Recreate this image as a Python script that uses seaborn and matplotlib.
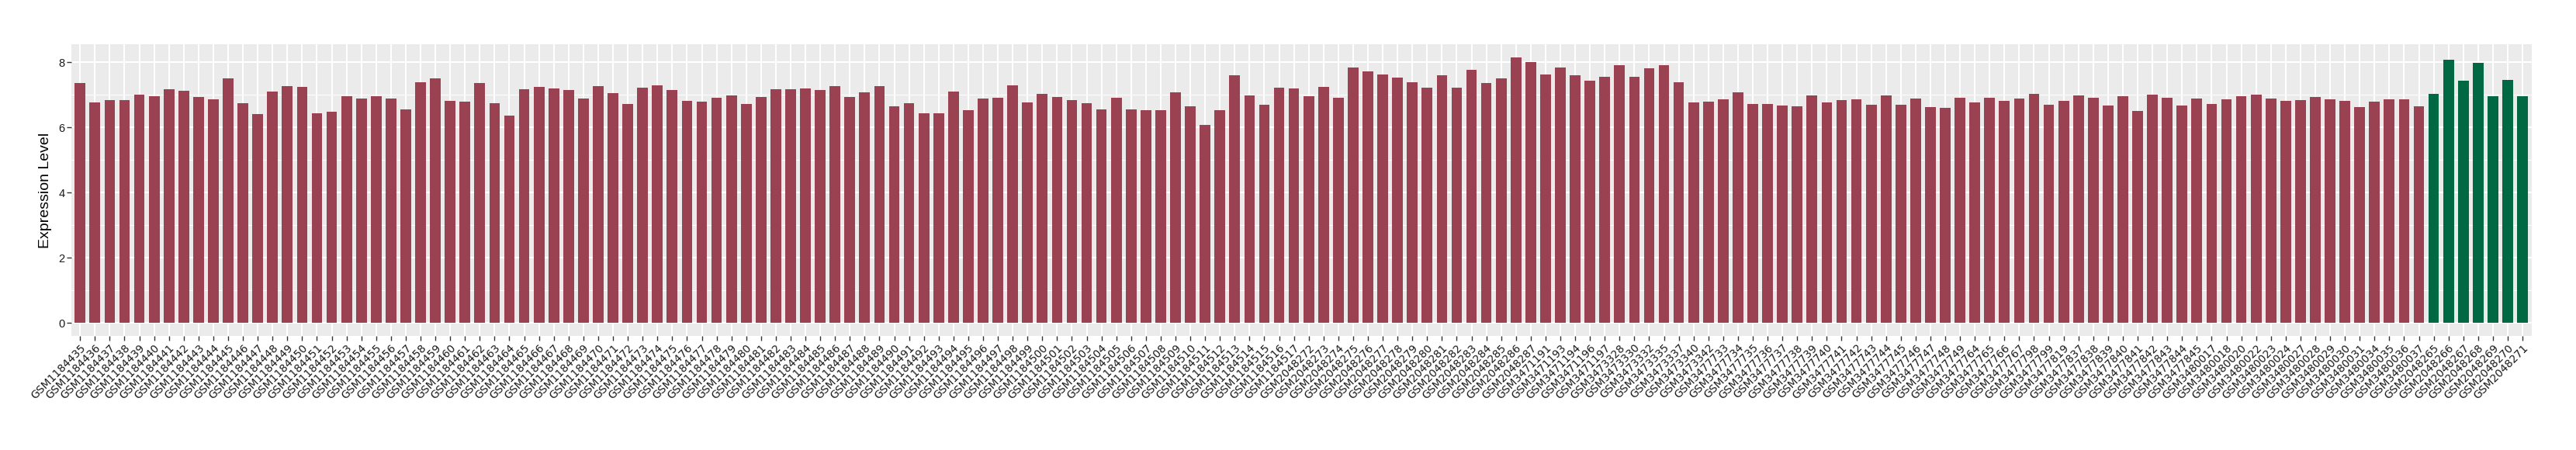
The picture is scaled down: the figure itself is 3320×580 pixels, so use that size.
import matplotlib
matplotlib.use("Agg")
import matplotlib.pyplot as plt
import seaborn as sns
import pandas as pd
import numpy as np
from matplotlib.ticker import MultipleLocator

# ---------------- data ----------------
ids_a = ["GSM1184435", "GSM1184436", "GSM1184437", "GSM1184438", "GSM1184439", "GSM1184440",
         "GSM1184441", "GSM1184442", "GSM1184443", "GSM1184444", "GSM1184445", "GSM1184446",
         "GSM1184447", "GSM1184448", "GSM1184449", "GSM1184450", "GSM1184451", "GSM1184452",
         "GSM1184453", "GSM1184454", "GSM1184455", "GSM1184456", "GSM1184457", "GSM1184458",
         "GSM1184459", "GSM1184460", "GSM1184461", "GSM1184462", "GSM1184463", "GSM1184464",
         "GSM1184465", "GSM1184466", "GSM1184467", "GSM1184468", "GSM1184469", "GSM1184470",
         "GSM1184471", "GSM1184472", "GSM1184473", "GSM1184474", "GSM1184475", "GSM1184476",
         "GSM1184477", "GSM1184478", "GSM1184479", "GSM1184480", "GSM1184481", "GSM1184482",
         "GSM1184483", "GSM1184484", "GSM1184485", "GSM1184486", "GSM1184487", "GSM1184488",
         "GSM1184489", "GSM1184490", "GSM1184491", "GSM1184492", "GSM1184493", "GSM1184494",
         "GSM1184495", "GSM1184496", "GSM1184497", "GSM1184498", "GSM1184499", "GSM1184500",
         "GSM1184501", "GSM1184502", "GSM1184503", "GSM1184504", "GSM1184505", "GSM1184506",
         "GSM1184507", "GSM1184508", "GSM1184509", "GSM1184510", "GSM1184511", "GSM1184512",
         "GSM1184513", "GSM1184514", "GSM1184515", "GSM1184516", "GSM1184517"]
vals_a = [7.36, 6.77, 6.84, 6.84, 7.00, 6.96, 7.17, 7.13, 6.93, 6.86, 7.51, 6.74,
          6.41, 7.10, 7.27, 7.24, 6.43, 6.48, 6.96, 6.89, 6.96, 6.89, 6.56, 7.38,
          7.51, 6.82, 6.79, 7.36, 6.74, 6.36, 7.17, 7.24, 7.20, 7.15, 6.89, 7.27,
          7.06, 6.72, 7.22, 7.30, 7.15, 6.82, 6.79, 6.91, 6.98, 6.72, 6.93, 7.17,
          7.17, 7.20, 7.15, 7.27, 6.93, 7.07, 7.27, 6.65, 6.74, 6.43, 6.43, 7.10,
          6.53, 6.89, 6.91, 7.30, 6.77, 7.03, 6.93, 6.84, 6.74, 6.56, 6.91, 6.56,
          6.53, 6.53, 7.07, 6.65, 6.08, 6.53, 7.60, 6.98, 6.70, 7.22, 7.20]

ids_b = ["GSM2048272", "GSM2048273", "GSM2048274", "GSM2048275", "GSM2048276", "GSM2048277",
         "GSM2048278", "GSM2048279", "GSM2048280", "GSM2048281", "GSM2048282", "GSM2048283",
         "GSM2048284", "GSM2048285", "GSM2048286", "GSM2048287"]
vals_b = [6.96, 7.24, 6.91, 7.84, 7.72, 7.62, 7.53, 7.38, 7.22, 7.60, 7.22, 7.77,
          7.37, 7.51, 8.15, 8.01]

ids_c = ["GSM3471191", "GSM3471193", "GSM3471194", "GSM3471196", "GSM3471197",
         "GSM3473328", "GSM3473330", "GSM3473332", "GSM3473335", "GSM3473337",
         "GSM3473340", "GSM3473342"]
vals_c = [7.62, 7.84, 7.60, 7.44, 7.55, 7.91, 7.55, 7.81, 7.91, 7.38, 6.77, 6.79]

ids_d = ["GSM3477733", "GSM3477734", "GSM3477735", "GSM3477736", "GSM3477737", "GSM3477738",
         "GSM3477739", "GSM3477740", "GSM3477741", "GSM3477742", "GSM3477743", "GSM3477744",
         "GSM3477745", "GSM3477746", "GSM3477747", "GSM3477748", "GSM3477749", "GSM3477764",
         "GSM3477765", "GSM3477766", "GSM3477767", "GSM3477798", "GSM3477799", "GSM3477819",
         "GSM3477837", "GSM3477838", "GSM3477839", "GSM3477840", "GSM3477841", "GSM3477842",
         "GSM3477843", "GSM3477844", "GSM3477845"]
vals_d = [6.86, 7.07, 6.72, 6.72, 6.67, 6.65, 6.98, 6.77, 6.84, 6.86, 6.70, 6.98,
          6.70, 6.89, 6.63, 6.60, 6.91, 6.77, 6.91, 6.82, 6.89, 7.03, 6.70, 6.82,
          6.98, 6.91, 6.67, 6.96, 6.50, 7.00, 6.91, 6.67, 6.89]

ids_e = ["GSM3480017", "GSM3480018", "GSM3480020", "GSM3480022", "GSM3480023", "GSM3480024",
         "GSM3480027", "GSM3480028", "GSM3480029", "GSM3480030", "GSM3480031", "GSM3480034",
         "GSM3480035", "GSM3480036", "GSM3480037"]
vals_e = [6.72, 6.86, 6.96, 7.00, 6.89, 6.82, 6.84, 6.93, 6.86, 6.82, 6.63, 6.79,
          6.86, 6.86, 6.65]

ids_green = ["GSM2048265", "GSM2048266", "GSM2048267", "GSM2048268", "GSM2048269",
             "GSM2048270", "GSM2048271"]
vals_green = [7.03, 8.08, 7.44, 7.98, 6.96, 7.46, 6.96]

red_color = "#9B4252"
green_color = "#006944"

samples = ids_a + ids_b + ids_c + ids_d + ids_e + ids_green
values = vals_a + vals_b + vals_c + vals_d + vals_e + vals_green
groups = ["other"] * (len(samples) - len(ids_green)) + ["highlight"] * len(ids_green)

df = pd.DataFrame({"sample": samples, "value": values, "group": groups})

# ---------------- style ----------------
sns.set_theme(style="darkgrid", rc={
    "axes.facecolor": "#EBEBEB",
    "grid.color": "white",
    "axes.edgecolor": "#EBEBEB",
})
plt.rcParams["font.family"] = ["DejaVu Sans"]

W, H, DPI = 3320, 580, 100
fig = plt.figure(figsize=(W / DPI, H / DPI), dpi=DPI)
ax = fig.add_axes([91.8 / W, 1 - 432.8 / H, (3262.5 - 91.8) / W, (432.8 - 57.3) / H])

sns.barplot(data=df, x="sample", y="value", hue="group",
            palette={"other": red_color, "highlight": green_color},
            dodge=False, width=0.72, saturation=1, legend=False, ax=ax,
            order=samples, linewidth=0)

n = len(samples)
ax.set_xlim(-0.6, n - 1 + 0.6)
ax.set_ylim(-0.40, 8.55)
ax.set_yticks([0, 2, 4, 6, 8])
ax.yaxis.set_minor_locator(MultipleLocator(1))
ax.grid(True, which="major", color="white", linewidth=1.5)
ax.grid(True, which="minor", axis="y", color="white", linewidth=0.7)
ax.set_axisbelow(True)
for s in ax.spines.values():
    s.set_visible(False)

ax.tick_params(axis="both", which="major", length=4, width=1.0, color="#333333",
               direction="out", bottom=True, left=True)
ax.tick_params(axis="y", which="minor", length=0)
ax.tick_params(axis="x", pad=2)
ax.tick_params(axis="y", pad=2)

ax.set_xticks(range(n))
ax.set_xticklabels(samples, rotation=45, ha="right", va="top",
                   rotation_mode="anchor", fontsize=10, color="#1a1a1a",
                   family=["DejaVu Sans"])
for lab in ax.get_yticklabels():
    lab.set_fontsize(10.5)
    lab.set_color("#1a1a1a")
    lab.set_family(["Liberation Sans", "DejaVu Sans"])

ax.set_xlabel("")
ax.set_ylabel("Expression Level", fontsize=14, color="black",
              family=["Liberation Sans", "DejaVu Sans"], labelpad=6)

fig.savefig("out.png", dpi=DPI)
